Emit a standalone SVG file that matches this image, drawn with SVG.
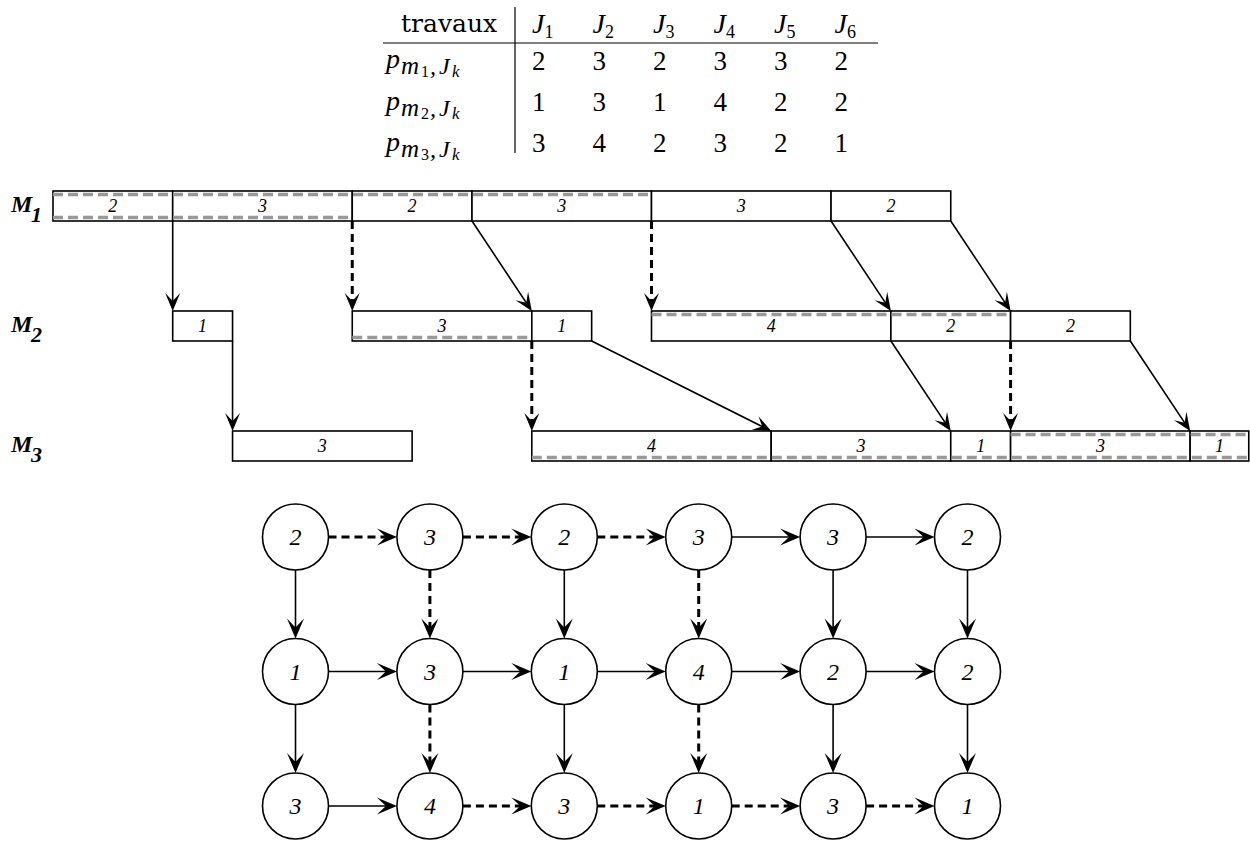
<svg xmlns="http://www.w3.org/2000/svg" width="1250" height="842" viewBox="0 0 1250 842">
<style>
.bg{fill:#fff}
.box{fill:#fff;stroke:#000;stroke-width:1.6}
.gd{stroke:#999;stroke-width:3.5;stroke-dasharray:10 5;fill:none}
.a{stroke:#000;stroke-width:1.6;fill:none;marker-end:url(#ah)}
.ad{stroke:#000;stroke-width:3;stroke-dasharray:8 5;fill:none;marker-end:url(#ah)}
.ga{stroke:#000;stroke-width:1.6;fill:none;marker-end:url(#ah2)}
.gad{stroke:#000;stroke-width:3;stroke-dasharray:8 5;fill:none;marker-end:url(#ah2)}
.nd{fill:#fff;stroke:#000;stroke-width:1.6}
.nl{font-family:"Liberation Serif",serif;font-style:italic;font-size:24px;text-anchor:middle}
.gl{font-family:"Liberation Serif",serif;font-style:italic;font-size:18px;text-anchor:middle}
.ml{font-family:"Liberation Serif",serif;font-style:italic;font-weight:bold;font-size:24px}
.tx{font-family:"DejaVu Serif",serif;font-size:25px}
.dg{font-family:"Liberation Serif",serif;font-size:27px}
.mi{font-family:"Liberation Serif",serif;font-style:italic;font-size:28px}
.up{font-style:normal}
</style>
<defs>
<marker id="ah" markerUnits="userSpaceOnUse" viewBox="-20 -9 21 18" refX="-8" refY="0" markerWidth="21" markerHeight="18" orient="auto">
<path d="M0,0 L-18,-7.5 L-10,0 L-18,7.5 Z" fill="#000" stroke="none"/>
</marker>
<marker id="ah2" markerUnits="userSpaceOnUse" viewBox="-22 -10 23 20" refX="-8" refY="0" markerWidth="23" markerHeight="20" orient="auto">
<path d="M0,0 L-20,-8.5 L-11,0 L-20,8.5 Z" fill="#000" stroke="none"/>
</marker>
</defs>
<rect class="bg" x="0" y="0" width="1250" height="842"/>

<g id="table">
<line x1="383" y1="43" x2="878" y2="43" stroke="#808080" stroke-width="2"/>
<line x1="515" y1="7" x2="515" y2="153" stroke="#000" stroke-width="1.2"/>
<text class="tx" x="401" y="32">travaux</text>
<text class="mi" x="532" y="33">J<tspan class="up" font-size="18" dy="5">1</tspan></text>
<text class="mi" x="592.5" y="33">J<tspan class="up" font-size="18" dy="5">2</tspan></text>
<text class="mi" x="653" y="33">J<tspan class="up" font-size="18" dy="5">3</tspan></text>
<text class="mi" x="713.5" y="33">J<tspan class="up" font-size="18" dy="5">4</tspan></text>
<text class="mi" x="774" y="33">J<tspan class="up" font-size="18" dy="5">5</tspan></text>
<text class="mi" x="834.5" y="33">J<tspan class="up" font-size="18" dy="5">6</tspan></text>

<text class="mi" x="386" y="68">p<tspan x="401" font-size="25" dy="6">m</tspan><tspan x="421" class="up" font-size="16" dy="3">1</tspan><tspan x="430" font-size="24" dy="-3">,</tspan><tspan x="439" font-size="24">J</tspan><tspan x="452" font-size="17" dy="3">k</tspan></text>
<text class="mi" x="386" y="110">p<tspan x="401" font-size="25" dy="6">m</tspan><tspan x="421" class="up" font-size="16" dy="3">2</tspan><tspan x="430" font-size="24" dy="-3">,</tspan><tspan x="439" font-size="24">J</tspan><tspan x="452" font-size="17" dy="3">k</tspan></text>
<text class="mi" x="386" y="151">p<tspan x="401" font-size="25" dy="6">m</tspan><tspan x="421" class="up" font-size="16" dy="3">3</tspan><tspan x="430" font-size="24" dy="-3">,</tspan><tspan x="439" font-size="24">J</tspan><tspan x="452" font-size="17" dy="3">k</tspan></text>

<text class="dg" x="532" y="70">2</text><text class="dg" x="592.5" y="70">3</text><text class="dg" x="653" y="70">2</text><text class="dg" x="713.5" y="70">3</text><text class="dg" x="774" y="70">3</text><text class="dg" x="834.5" y="70">2</text>
<text class="dg" x="532" y="111">1</text><text class="dg" x="592.5" y="111">3</text><text class="dg" x="653" y="111">1</text><text class="dg" x="713.5" y="111">4</text><text class="dg" x="774" y="111">2</text><text class="dg" x="834.5" y="111">2</text>
<text class="dg" x="532" y="152">3</text><text class="dg" x="592.5" y="152">4</text><text class="dg" x="653" y="152">2</text><text class="dg" x="713.5" y="152">3</text><text class="dg" x="774" y="152">2</text><text class="dg" x="834.5" y="152">1</text>
</g>

<g id="machine-labels">
<text class="ml" x="11" y="212">M<tspan x="31" dy="10" font-size="22">1</tspan></text>
<text class="ml" x="11" y="332">M<tspan x="31" dy="10" font-size="22">2</tspan></text>
<text class="ml" x="11" y="452">M<tspan x="31" dy="10" font-size="22">3</tspan></text>
</g>

<g id="gantt-m1">
<g id="m1-j1"><rect class="box" x="53" y="191" width="119.7" height="30"/><text class="gl" x="112.85" y="212">2</text></g>
<g id="m1-j2"><rect class="box" x="172.7" y="191" width="179.55" height="30"/><text class="gl" x="262.5" y="212">3</text></g>
<g id="m1-j3"><rect class="box" x="352.25" y="191" width="119.75" height="30"/><text class="gl" x="412.1" y="212">2</text></g>
<g id="m1-j4"><rect class="box" x="472" y="191" width="179.5" height="30"/><text class="gl" x="561.75" y="212">3</text></g>
<g id="m1-j5"><rect class="box" x="651.5" y="191" width="179.55" height="30"/><text class="gl" x="741.3" y="212">3</text></g>
<g id="m1-j6"><rect class="box" x="831.05" y="191" width="119.7" height="30"/><text class="gl" x="890.9" y="212">2</text></g>
</g>
<g id="gantt-m2">
<g id="m2-j1"><rect class="box" x="172.7" y="311" width="59.85" height="30"/><text class="gl" x="202.6" y="332">1</text></g>
<g id="m2-j2"><rect class="box" x="352.25" y="311" width="179.55" height="30"/><text class="gl" x="442" y="332">3</text></g>
<g id="m2-j3"><rect class="box" x="531.8" y="311" width="59.85" height="30"/><text class="gl" x="561.7" y="332">1</text></g>
<g id="m2-j4"><rect class="box" x="651.5" y="311" width="239.4" height="30"/><text class="gl" x="771.2" y="332">4</text></g>
<g id="m2-j5"><rect class="box" x="890.9" y="311" width="119.7" height="30"/><text class="gl" x="950.75" y="332">2</text></g>
<g id="m2-j6"><rect class="box" x="1010.6" y="311" width="119.7" height="30"/><text class="gl" x="1070.45" y="332">2</text></g>
</g>
<g id="gantt-m3">
<g id="m3-j1"><rect class="box" x="232.55" y="431" width="179.55" height="30"/><text class="gl" x="322.3" y="452">3</text></g>
<g id="m3-j2"><rect class="box" x="531.8" y="431" width="239.4" height="30"/><text class="gl" x="651.5" y="452">4</text></g>
<g id="m3-j3"><rect class="box" x="771.2" y="431" width="179.55" height="30"/><text class="gl" x="861" y="452">3</text></g>
<g id="m3-j4"><rect class="box" x="950.75" y="431" width="59.85" height="30"/><text class="gl" x="980.7" y="452">1</text></g>
<g id="m3-j5"><rect class="box" x="1010.6" y="431" width="179.55" height="30"/><text class="gl" x="1100.4" y="452">3</text></g>
<g id="m3-j6"><rect class="box" x="1190.15" y="431" width="58.6" height="30"/><text class="gl" x="1219.5" y="452">1</text></g>
</g>

<g id="critical-path-marks">
<line class="gd" x1="53" y1="194.5" x2="651.5" y2="194.5"/>
<line class="gd" x1="53" y1="217.5" x2="352.25" y2="217.5"/>
<line class="gd" x1="352.25" y1="337.5" x2="531.8" y2="337.5"/>
<line class="gd" x1="651.5" y1="314.5" x2="1010.6" y2="314.5"/>
<line class="gd" x1="531.8" y1="457.5" x2="1248" y2="457.5"/>
<line class="gd" x1="1010.6" y1="434.5" x2="1248" y2="434.5"/>
</g>

<g id="gantt-connectors">
<line class="a" x1="172.7" y1="221" x2="172.7" y2="303"/>
<line class="ad" x1="352.25" y1="221" x2="352.25" y2="303"/>
<line class="a" x1="472" y1="221" x2="527.37" y2="304.34"/>
<line class="ad" x1="651.5" y1="221" x2="651.5" y2="303"/>
<line class="a" x1="831.05" y1="221" x2="886.47" y2="304.34"/>
<line class="a" x1="950.75" y1="221" x2="1006.17" y2="304.34"/>
<line class="a" x1="232.55" y1="341" x2="232.55" y2="423"/>
<line class="ad" x1="531.8" y1="341" x2="531.8" y2="423"/>
<line class="a" x1="591.65" y1="341" x2="764.05" y2="427.42"/>
<line class="a" x1="890.9" y1="341" x2="946.32" y2="424.34"/>
<line class="ad" x1="1010.6" y1="341" x2="1010.6" y2="423"/>
<line class="a" x1="1130.3" y1="341" x2="1185.72" y2="424.34"/>
</g>

<g id="graph-connectors">
<line class="gad" x1="328.5" y1="537" x2="388.9" y2="537"/>
<line class="gad" x1="462.9" y1="537" x2="523.3" y2="537"/>
<line class="gad" x1="597.3" y1="537" x2="657.7" y2="537"/>
<line class="ga" x1="731.7" y1="537" x2="792.1" y2="537"/>
<line class="ga" x1="866.1" y1="537" x2="926.5" y2="537"/>

<line class="ga" x1="328.5" y1="671.5" x2="388.9" y2="671.5"/>
<line class="ga" x1="462.9" y1="671.5" x2="523.3" y2="671.5"/>
<line class="ga" x1="597.3" y1="671.5" x2="657.7" y2="671.5"/>
<line class="ga" x1="731.7" y1="671.5" x2="792.1" y2="671.5"/>
<line class="ga" x1="866.1" y1="671.5" x2="926.5" y2="671.5"/>

<line class="ga" x1="328.5" y1="806" x2="388.9" y2="806"/>
<line class="gad" x1="462.9" y1="806" x2="523.3" y2="806"/>
<line class="gad" x1="597.3" y1="806" x2="657.7" y2="806"/>
<line class="gad" x1="731.7" y1="806" x2="792.1" y2="806"/>
<line class="gad" x1="866.1" y1="806" x2="926.5" y2="806"/>

<line class="ga" x1="295.5" y1="570" x2="295.5" y2="630.5"/>
<line class="gad" x1="429.9" y1="570" x2="429.9" y2="630.5"/>
<line class="ga" x1="564.3" y1="570" x2="564.3" y2="630.5"/>
<line class="gad" x1="698.7" y1="570" x2="698.7" y2="630.5"/>
<line class="ga" x1="833.1" y1="570" x2="833.1" y2="630.5"/>
<line class="ga" x1="967.5" y1="570" x2="967.5" y2="630.5"/>

<line class="ga" x1="295.5" y1="704.5" x2="295.5" y2="765"/>
<line class="gad" x1="429.9" y1="704.5" x2="429.9" y2="765"/>
<line class="ga" x1="564.3" y1="704.5" x2="564.3" y2="765"/>
<line class="gad" x1="698.7" y1="704.5" x2="698.7" y2="765"/>
<line class="ga" x1="833.1" y1="704.5" x2="833.1" y2="765"/>
<line class="ga" x1="967.5" y1="704.5" x2="967.5" y2="765"/>
</g>

<g id="graph-nodes">
<g id="n11"><circle class="nd" cx="295.5" cy="537" r="33"/><text class="nl" x="295.5" y="545">2</text></g>
<g id="n12"><circle class="nd" cx="429.9" cy="537" r="33"/><text class="nl" x="429.9" y="545">3</text></g>
<g id="n13"><circle class="nd" cx="564.3" cy="537" r="33"/><text class="nl" x="564.3" y="545">2</text></g>
<g id="n14"><circle class="nd" cx="698.7" cy="537" r="33"/><text class="nl" x="698.7" y="545">3</text></g>
<g id="n15"><circle class="nd" cx="833.1" cy="537" r="33"/><text class="nl" x="833.1" y="545">3</text></g>
<g id="n16"><circle class="nd" cx="967.5" cy="537" r="33"/><text class="nl" x="967.5" y="545">2</text></g>

<g id="n21"><circle class="nd" cx="295.5" cy="671.5" r="33"/><text class="nl" x="295.5" y="679.5">1</text></g>
<g id="n22"><circle class="nd" cx="429.9" cy="671.5" r="33"/><text class="nl" x="429.9" y="679.5">3</text></g>
<g id="n23"><circle class="nd" cx="564.3" cy="671.5" r="33"/><text class="nl" x="564.3" y="679.5">1</text></g>
<g id="n24"><circle class="nd" cx="698.7" cy="671.5" r="33"/><text class="nl" x="698.7" y="679.5">4</text></g>
<g id="n25"><circle class="nd" cx="833.1" cy="671.5" r="33"/><text class="nl" x="833.1" y="679.5">2</text></g>
<g id="n26"><circle class="nd" cx="967.5" cy="671.5" r="33"/><text class="nl" x="967.5" y="679.5">2</text></g>

<g id="n31"><circle class="nd" cx="295.5" cy="806" r="33"/><text class="nl" x="295.5" y="814">3</text></g>
<g id="n32"><circle class="nd" cx="429.9" cy="806" r="33"/><text class="nl" x="429.9" y="814">4</text></g>
<g id="n33"><circle class="nd" cx="564.3" cy="806" r="33"/><text class="nl" x="564.3" y="814">3</text></g>
<g id="n34"><circle class="nd" cx="698.7" cy="806" r="33"/><text class="nl" x="698.7" y="814">1</text></g>
<g id="n35"><circle class="nd" cx="833.1" cy="806" r="33"/><text class="nl" x="833.1" y="814">3</text></g>
<g id="n36"><circle class="nd" cx="967.5" cy="806" r="33"/><text class="nl" x="967.5" y="814">1</text></g>
</g>
</svg>
